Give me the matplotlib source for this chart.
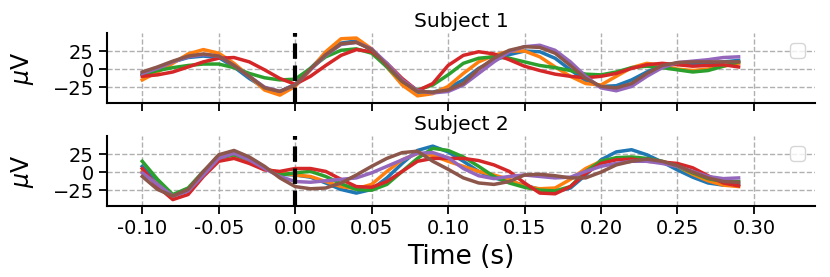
#!/usr/bin/python3

# Evoked responses for two subjects, one panel each, with stimulus onset at 0

import matplotlib.pyplot as plt
import numpy as np

# Sample times (s), one every 10 ms
time = np.round(np.arange(-0.10, 0.295, 0.01), 2)

# Subject 1 (microvolts)
s1_blue = [-8, 1, 10, 16, 18, 16, 3, -13, -26, -31, -21, 1, 22, 36, 39, 26, 3, -20, -32, -32,
           -26, -15, 1, 12, 20, 25, 24, 15, -1, -16, -24, -23, -15, -4, 5, 8, 8, 8, 10, 12]
s1_orange = [-15, -4, 8, 21, 27, 22, 8, -10, -29, -36, -24, -1, 24, 42, 43, 28, 3, -22, -37, -34,
             -24, -6, 10, 19, 25, 25, 17, 3, -10, -20, -22, -10, 2, 8, 5, 0, -2, 0, 4, 8]
s1_green = [-8, -2, 2, 5, 7, 7, 2, -6, -12, -15, -14, 1, 17, 26, 28, 22, 3, -17, -29, -22,
            -8, 8, 15, 17, 15, 10, 5, 2, -2, -7, -8, -4, 2, 4, 2, -1, -4, -2, 4, 10]
s1_red = [-10, -8, -4, 3, 10, 15, 16, 10, -1, -13, -21, -10, 5, 19, 27, 24, 8, -13, -30, -20,
          5, 19, 24, 21, 13, 4, -2, -7, -10, -12, -10, -6, 1, 6, 8, 6, 4, 5, 6, 3]
s1_purple = [-6, 1, 10, 17, 20, 18, 5, -10, -25, -31, -22, -1, 19, 34, 37, 28, 8, -15, -30, -33,
             -31, -22, -6, 10, 24, 31, 33, 26, 10, -10, -26, -30, -24, -10, 2, 9, 11, 13, 16, 17]
s1_brown = [-4, 3, 11, 18, 21, 18, 5, -10, -26, -31, -22, 0, 20, 35, 37, 27, 5, -17, -31, -32,
            -29, -20, 0, 15, 26, 31, 30, 22, 5, -13, -24, -26, -20, -6, 5, 9, 10, 10, 10, 10]

# Subject 2 (microvolts)
s2_blue = [8, -15, -33, -26, -4, 20, 26, 18, 5, -3, -4, -7, -15, -24, -29, -24, -8, 12, 30, 36,
           28, 15, 1, -8, -13, -18, -24, -27, -22, -4, 17, 28, 31, 24, 14, 3, -7, -15, -18, -17]
s2_orange = [1, -17, -33, -24, -1, 20, 24, 15, 5, -1, -4, -6, -13, -20, -23, -17, 1, 17, 26, 23,
             15, 8, 1, -4, -10, -20, -23, -22, -10, 5, 15, 19, 19, 17, 14, 8, -3, -12, -18, -20]
s2_green = [15, -10, -31, -22, 1, 19, 24, 17, 5, -4, -1, 1, -6, -16, -24, -25, -17, 1, 19, 33,
            30, 21, 8, -6, -15, -21, -25, -26, -20, 1, 15, 20, 21, 19, 15, 8, -1, -9, -13, -13]
s2_red = [5, -20, -38, -31, -6, 15, 19, 12, 3, 1, 5, 5, 1, -10, -20, -21, -13, 1, 15, 19,
          19, 19, 16, 10, 1, -15, -29, -30, -20, -2, 12, 17, 18, 15, 14, 12, 6, -5, -15, -19]
s2_purple = [-1, -17, -33, -26, -4, 19, 26, 17, 5, -6, -13, -14, -12, -10, -8, -1, 8, 17, 26, 27,
             20, 5, -5, -9, -6, -4, -6, -8, -7, 1, 8, 12, 15, 15, 12, 8, 1, -6, -9, -8]
s2_brown = [-6, -24, -33, -24, 1, 24, 30, 21, 8, -8, -20, -23, -22, -15, -4, 8, 19, 27, 29, 15,
            4, -8, -15, -17, -13, -4, -3, -5, -8, -8, 0, 10, 15, 18, 15, 9, 0, -8, -13, -14]

subjects = ['Subject 1', 'Subject 2']
series = [[s1_blue, s1_orange, s1_green, s1_red, s1_purple, s1_brown],
          [s2_blue, s2_orange, s2_green, s2_red, s2_purple, s2_brown]]

xticks = [-0.10, -0.05, 0.00, 0.05, 0.10, 0.15, 0.20, 0.25, 0.30]
xticklabels = ['-0.10', '-0.05', '0.00', '0.05', '0.10', '0.15', '0.20', '0.25', '0.30']
yticks = [-25, 0, 25]

fig, axes = plt.subplots(2, 1, sharex=True, figsize=(8.3, 2.77), dpi=100)
fig.subplots_adjust(left=0.129, right=0.982, top=0.881, bottom=0.256, hspace=0.47)

for ax, title, lines in zip(axes, subjects, series):
    for values in lines:
        ax.plot(time, values, linewidth=2.5)
    ax.axvline(0, color='k', linestyle='--', linewidth=3)
    ax.grid(True, linestyle='--', color='#b0b0b0', linewidth=1)
    ax.set_axisbelow(True)
    ax.set_title(title, fontsize=14.5, pad=4)
    ax.set_ylabel(r'$\mu$V', fontsize=17)
    ax.yaxis.set_label_coords(-0.1, 0.5)
    ax.set_yticks(yticks)
    ax.set_ylim(-47, 50)
    ax.spines['top'].set_visible(False)
    ax.spines['right'].set_visible(False)
    ax.spines['left'].set_linewidth(1.5)
    ax.spines['bottom'].set_linewidth(1.5)
    ax.tick_params(labelsize=14, length=6, width=1.3)
    # empty legend box, as in the original figure
    ax.legend(handles=[], loc='upper right', fontsize=14)

axes[1].set_xticks(xticks)
axes[1].set_xticklabels(xticklabels)
axes[1].set_xlim(-0.123, 0.34)
axes[1].set_xlabel('Time (s)', fontsize=19)

plt.savefig('out.png')
